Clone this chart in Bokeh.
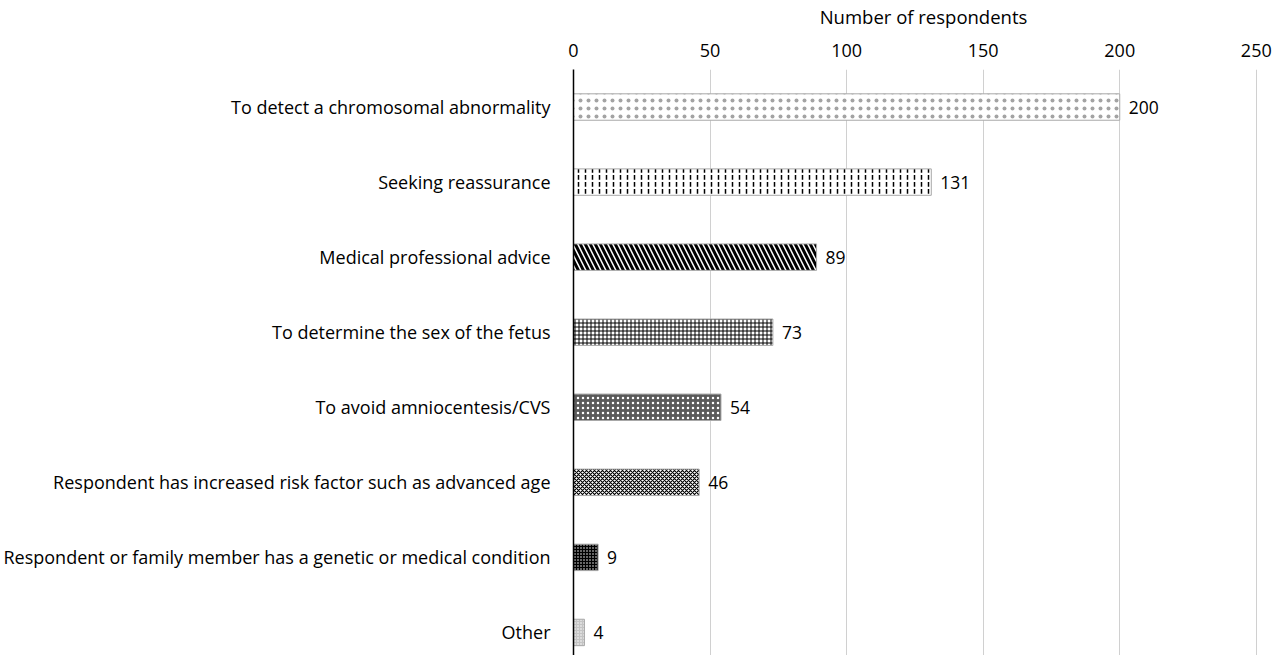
from bokeh.plotting import figure
from bokeh.models import ColumnDataSource, Range1d, FixedTicker, LinearAxis
from bokeh.core.properties import value
from bokeh.embed import file_html
from bokeh.resources import INLINE

categories = [
    "To detect a chromosomal abnormality",
    "Seeking reassurance",
    "Medical professional advice",
    "To determine the sex of the fetus",
    "To avoid amniocentesis/CVS",
    "Respondent has increased risk factor such as advanced age",
    "Respondent or family member has a genetic or medical condition",
    "Other",
]
counts = [200, 131, 89, 73, 54, 46, 9, 4]
x_ticks = [0, 50, 100, 150, 200, 250]

# styles (one per bar)
fills = ["white", "white", "white", "white", "#5a5a5a", "white", "black", "#c4c4c4"]
hatches = ["dot", "vertical_dash", "left_diagonal_line", "cross", "dot", "diagonal_cross", "dot", "dot"]
hatch_colors = ["#333333", "black", "black", "black", "white", "black", "white", "white"]
hatch_alphas = [0.45, 1, 1, 1, 1, 1, 1, 1]
hatch_scales = [8, 7, 10, 4, 5, 4, 3, 3]
hatch_weights = [1, 1.5, 3, 1, 1.5, 1.2, 1, 1]

FONT = "Open Sans"

idx = list(range(len(categories)))
src = ColumnDataSource(dict(y=idx, v=counts, lab=[str(c) for c in counts]))

p = figure(width=1273, height=655, output_backend="svg", toolbar_location=None,
           x_range=Range1d(0, 256.3), y_range=Range1d(7.307, -0.5),
           x_axis_location=None, y_axis_location="left",
           min_border_left=570, min_border_top=65, min_border_right=0, min_border_bottom=0)
p.outline_line_color = None
p.background_fill_color = "white"

for i in idx:
    p.hbar(y=[i], right=[counts[i]], left=0, height=0.352,
           fill_color=fills[i], line_color="#a8a8a8", line_width=1,
           hatch_pattern=hatches[i], hatch_color=hatch_colors[i], hatch_alpha=hatch_alphas[i],
           hatch_scale=hatch_scales[i], hatch_weight=hatch_weights[i])

p.text(x="v", y="y", text="lab", source=src, x_offset=9,
       text_baseline="middle", text_align="left",
       text_font=value(FONT), text_font_size="17.5px", text_color="black")

top = LinearAxis(ticker=FixedTicker(ticks=x_ticks), axis_label="Number of respondents")
top.axis_line_color = None
top.major_tick_line_color = None
top.minor_tick_line_color = None
top.major_label_text_font = FONT
top.major_label_text_font_size = "18px"
top.major_label_text_color = "black"
top.major_label_standoff = 7
top.axis_label_text_font = FONT
top.axis_label_text_font_size = "18.5px"
top.axis_label_text_font_style = "normal"
top.axis_label_text_color = "black"
top.axis_label_standoff = 12
p.add_layout(top, "above")

p.xgrid.ticker = FixedTicker(ticks=x_ticks)
p.xgrid.grid_line_color = "#d0d0d0"
p.xgrid.grid_line_width = 1
p.ygrid.grid_line_color = None

ya = p.yaxis[0]
ya.ticker = FixedTicker(ticks=idx)
ya.major_label_overrides = {i: c for i, c in zip(idx, categories)}
ya.axis_line_color = "black"
ya.axis_line_width = 1.5
ya.major_tick_line_color = None
ya.minor_tick_line_color = None
ya.major_label_standoff = 17
ya.major_label_text_font = FONT
ya.major_label_text_font_size = "18px"
ya.major_label_text_color = "black"

open("out.html", "w").write(file_html(p, INLINE))
